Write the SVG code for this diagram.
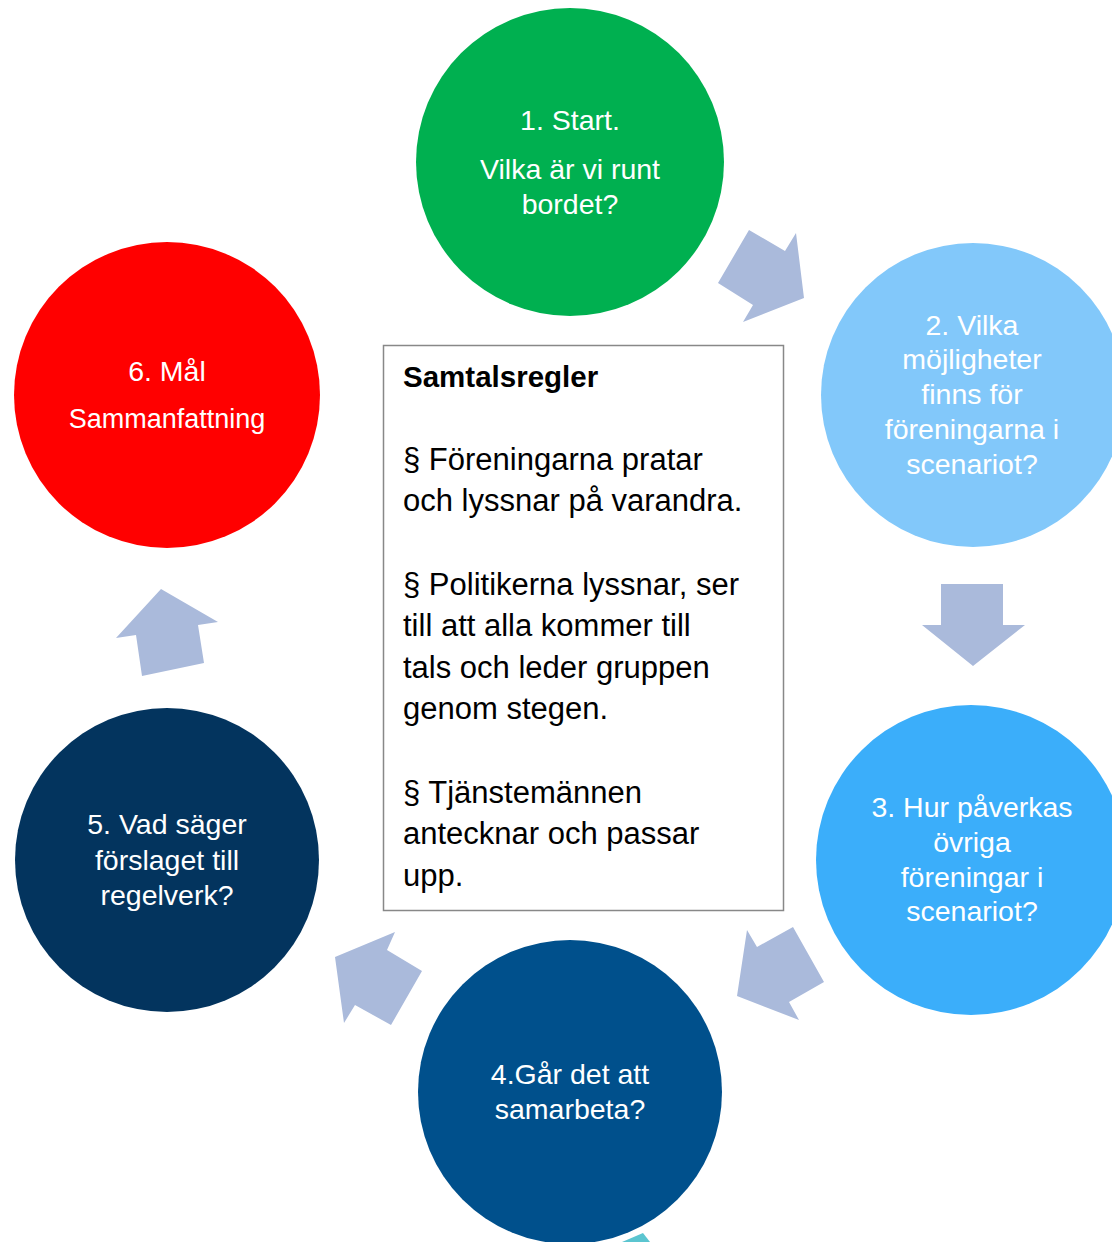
<svg xmlns="http://www.w3.org/2000/svg" width="1112" height="1242" viewBox="0 0 1112 1242">
<style>
.ct{font-family:"Liberation Sans",Arial,sans-serif;font-size:28.5px;fill:#fff;text-anchor:middle}
.bt{font-family:"Liberation Sans",Arial,sans-serif;font-size:31px;fill:#000}
.arr{fill:#AABADB}
</style>
<rect width="1112" height="1242" fill="#fff"/>
<g id="connectors">
<polygon class="arr" points="749,230 785,251 796,233 804,298 743,322 753,305 718,283"/>
<polygon class="arr" points="941,584 1003,584 1003,625 1025,625 973,666 922,625 941,625"/>
<polygon class="arr" points="747,930 757,947 793,927 824,982 789,1002 799,1020 737,996"/>
<polygon class="arr" points="335,957 395,932 387,950 422,971 391,1025 355,1005 344,1023"/>
<polygon class="arr" points="161,589 218,622 198,625 204,663 142,676 136,635 116,638"/>
<polygon fill="#5BC5D0" points="622,1242 643,1233 650,1242"/>
</g>
<g id="node1">
<circle cx="570" cy="162" r="154" fill="#00B050"/>
<text class="ct" x="570" y="130">1. Start.</text>
<text class="ct" x="570" y="179">Vilka är vi runt</text>
<text class="ct" x="570" y="214">bordet?</text>
</g>
<g id="node2">
<circle cx="973" cy="395" r="152" fill="#82C8FA"/>
<text class="ct" x="972" y="335">2. Vilka</text>
<text class="ct" x="972" y="369">möjligheter</text>
<text class="ct" x="972" y="404">finns för</text>
<text class="ct" x="972" y="439">föreningarna i</text>
<text class="ct" x="972" y="474">scenariot?</text>
</g>
<g id="node3">
<circle cx="971" cy="860" r="155" fill="#3BAEFA"/>
<text class="ct" x="972" y="817">3. Hur påverkas</text>
<text class="ct" x="972" y="852">övriga</text>
<text class="ct" x="972" y="887">föreningar i</text>
<text class="ct" x="972" y="921">scenariot?</text>
</g>
<g id="node4">
<circle cx="570" cy="1092" r="152" fill="#00508C"/>
<text class="ct" x="570" y="1084">4.Går det att</text>
<text class="ct" x="570" y="1119">samarbeta?</text>
</g>
<g id="node5">
<circle cx="167" cy="860" r="152" fill="#03345E"/>
<text class="ct" x="167" y="834">5. Vad säger</text>
<text class="ct" x="167" y="870">förslaget till</text>
<text class="ct" x="167" y="905">regelverk?</text>
</g>
<g id="node6">
<circle cx="167" cy="395" r="153" fill="#FF0000"/>
<text class="ct" x="167" y="381">6. Mål</text>
<text class="ct" x="167" y="428" style="font-size:27px">Sammanfattning</text>
</g>
<g id="rules">
<rect x="383.5" y="345.5" width="400" height="565" fill="#fff" stroke="#888" stroke-width="1.5"/>
<text class="bt" x="403" y="387" style="font-weight:bold;font-size:29.5px">Samtalsregler</text>
<text class="bt" x="403" y="470">§ Föreningarna pratar</text>
<text class="bt" x="403" y="511">och lyssnar på varandra.</text>
<text class="bt" x="403" y="595">§ Politikerna lyssnar, ser</text>
<text class="bt" x="403" y="636">till att alla kommer till</text>
<text class="bt" x="403" y="678">tals och leder gruppen</text>
<text class="bt" x="403" y="719">genom stegen.</text>
<text class="bt" x="403" y="803">§ Tjänstemännen</text>
<text class="bt" x="403" y="844">antecknar och passar</text>
<text class="bt" x="403" y="886">upp.</text>
</g>
</svg>
